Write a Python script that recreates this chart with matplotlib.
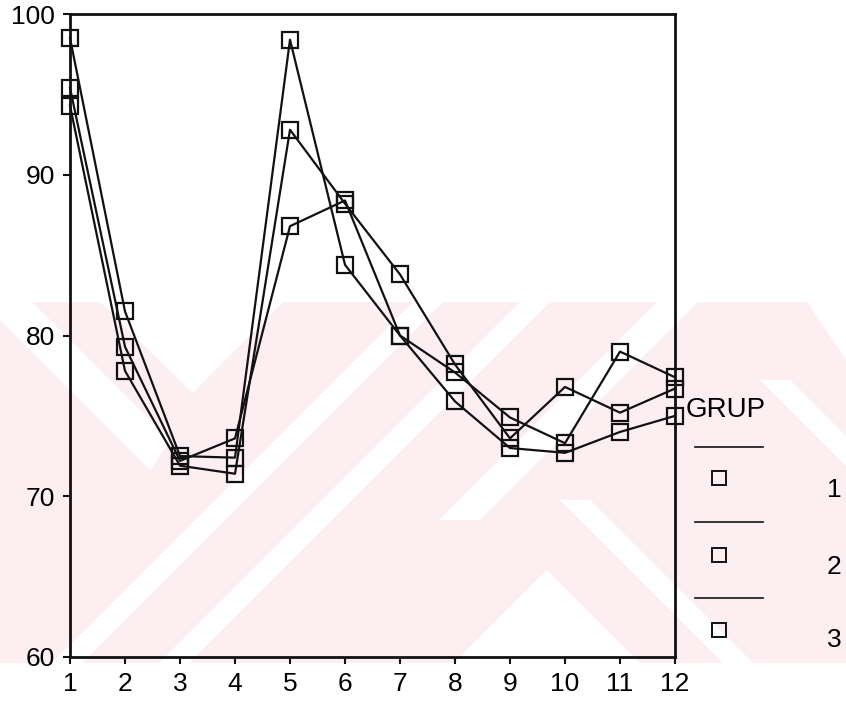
import matplotlib
matplotlib.use("Agg")
import matplotlib.pyplot as plt
from matplotlib.lines import Line2D
from matplotlib.patches import Polygon
from matplotlib.transforms import Affine2D

plt.rcParams["font.family"] = ["Liberation Sans", "DejaVu Sans"]

# data
periods = list(range(1, 13))
grup_1 = [98.5, 81.5, 72.5, 72.4, 98.4, 84.4, 80.0, 75.9, 73.0, 72.7, 74.0, 75.0]
grup_2 = [95.4, 79.3, 72.2, 73.6, 86.8, 88.4, 80.0, 77.7, 74.9, 73.3, 79.0, 77.4]
grup_3 = [94.3, 77.8, 71.9, 71.4, 92.8, 88.2, 83.8, 78.2, 73.6, 76.8, 75.2, 76.7]
series = [grup_1, grup_2, grup_3]
group_names = ["1", "2", "3"]
y_ticks = [60, 70, 80, 90, 100]

W, H = 846, 701
fig = plt.figure(figsize=(W / 100, H / 100), dpi=100)
# pixel coordinates (origin top-left) for background decoration and legend
px = Affine2D().scale(1 / W, -1 / H).translate(0, 1) + fig.transFigure

# faint watermark band behind the chart
pink = "#fdeef1"
band_top, band_bot = 302, 663
fig.add_artist(Polygon([(0, band_top), (W, band_top), (W, band_bot), (0, band_bot)],
                       closed=True, color=pink, transform=px, zorder=0, lw=0))
white_shapes = [
    [(100, band_top), (283, band_top), (193, 393)],
    [(0, 302), (32, 302), (170, 440), (150, 470), (0, 320)],
    [(715 - band_top, band_top), (745 - band_top, band_top),
     (745 - band_bot, band_bot), (715 - band_bot, band_bot)],
    [(822 - band_top, band_top), (852 - band_top, band_top),
     (852 - band_bot, band_bot), (822 - band_bot, band_bot)],
    [(959 - band_top, band_top), (1000 - band_top, band_top),
     (1000 - 520, 520), (959 - 520, 520)],
    [(454, band_bot), (547, 570), (640, band_bot)],
    [(560, 500), (590, 500), (753, band_bot), (723, band_bot)],
    [(807, band_top), (W, band_top), (W, 360)],
    [(760, 380), (790, 380), (W, 436), (W, 466)],
]
for shape in white_shapes:
    fig.add_artist(Polygon(shape, closed=True, color="white",
                           transform=px, zorder=0.5, lw=0))

ax = fig.add_axes([70 / W, 1 - 657 / H, 605 / W, 643 / H])
ax.set_zorder(2)
ax.patch.set_alpha(0)
for values in series:
    ax.plot(periods, values, color="#111111", lw=1.6,
            marker="s", markersize=12, markerfacecolor="none",
            markeredgecolor="#111111", markeredgewidth=1.6,
            clip_on=False, zorder=3)

ax.set_xlim(1, 12)
ax.set_ylim(60, 100)
ax.set_xticks(periods)
ax.set_yticks(y_ticks)
for side in ["left", "bottom", "top", "right"]:
    ax.spines[side].set_linewidth(2)
    ax.spines[side].set_color("#111111")
ax.tick_params(axis="both", direction="out", length=5, width=1.5,
               labelsize=19, pad=6, colors="#111111")
ax.tick_params(axis="both", labelcolor="black")

# legend drawn the old SPSS way
fig.text(686 / W, 1 - 417 / H, "GRUP", fontsize=20, ha="left", va="baseline",
         zorder=4)
line_rows = [447, 522, 598]
marker_rows = [478, 555, 630]
label_rows = [490, 567, 640]
for name, ly, my, ty in zip(group_names, line_rows, marker_rows, label_rows):
    fig.add_artist(Line2D([695, 763], [ly, ly], color="#111111", lw=1.2,
                          transform=px, zorder=4))
    fig.add_artist(Line2D([719], [my], marker="s", markersize=10,
                          markerfacecolor="none", markeredgecolor="#111111",
                          markeredgewidth=1.4, transform=px, zorder=4))
    fig.text(834 / W, 1 - ty / H, name, fontsize=19, ha="center", va="center",
             zorder=4)

fig.savefig("out.png", dpi=100)
